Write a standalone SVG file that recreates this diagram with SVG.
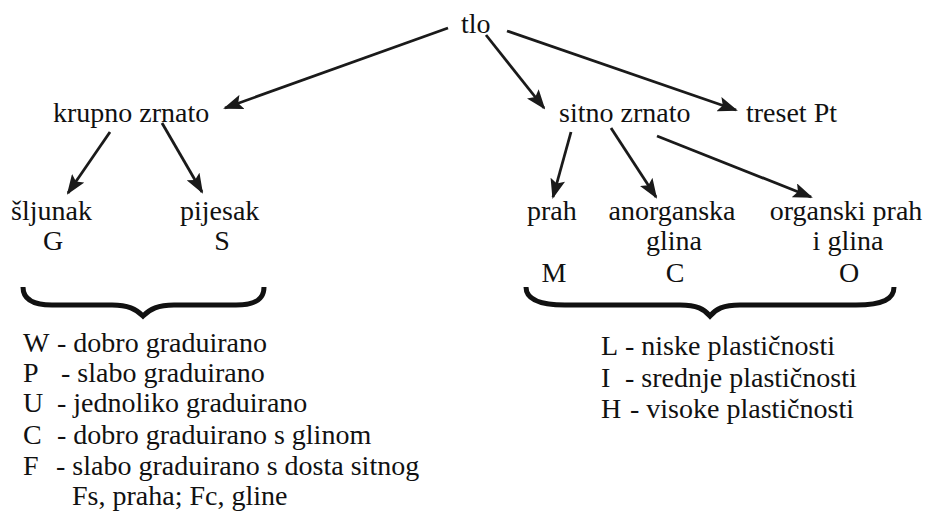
<svg xmlns="http://www.w3.org/2000/svg" width="928" height="514" viewBox="0 0 928 514">
<style>
text{font-family:"Liberation Serif","Times New Roman",serif;font-size:28px;fill:#111}
.c{text-anchor:middle}
.e{stroke:#1a1a1a;stroke-width:2.8;fill:none}
.b{stroke:#111;stroke-width:5;fill:none;stroke-linejoin:miter;stroke-linecap:butt}
</style>
<defs>
<marker id="ah" viewBox="0 0 20 15" refX="18" refY="7.5" markerWidth="20" markerHeight="15" markerUnits="userSpaceOnUse" orient="auto">
<path d="M0,0 L20,7.5 L0,15 L4,7.5 Z" fill="#1a1a1a"/>
</marker>
</defs>
<rect width="928" height="514" fill="#fff"/>
<g id="connectors">
<line class="e" x1="448" y1="28" x2="225" y2="108" marker-end="url(#ah)"/>
<line class="e" x1="486" y1="35" x2="544" y2="108" marker-end="url(#ah)"/>
<line class="e" x1="507" y1="31" x2="736" y2="110" marker-end="url(#ah)"/>
<line class="e" x1="110" y1="132" x2="68" y2="193" marker-end="url(#ah)"/>
<line class="e" x1="162" y1="123" x2="202" y2="192" marker-end="url(#ah)"/>
<line class="e" x1="571" y1="132" x2="553" y2="197" marker-end="url(#ah)"/>
<line class="e" x1="611" y1="128" x2="656" y2="197" marker-end="url(#ah)"/>
<line class="e" x1="657" y1="136" x2="811" y2="197" marker-end="url(#ah)"/>
</g>
<g id="tlo"><text x="461" y="33">tlo</text></g>
<g id="krupno"><text x="53" y="122">krupno zrnato</text></g>
<g id="sitno"><text x="559" y="122">sitno zrnato</text></g>
<g id="treset"><text x="746" y="122">treset Pt</text></g>
<g id="sljunak"><text x="11" y="220">šljunak</text><text class="c" x="53" y="250">G</text></g>
<g id="pijesak"><text x="180" y="220">pijesak</text><text class="c" x="222" y="250">S</text></g>
<g id="prah"><text x="527" y="220">prah</text><text class="c" x="554" y="282">M</text></g>
<g id="anorganska"><text class="c" x="672" y="220">anorganska</text><text class="c" x="674" y="250">glina</text><text class="c" x="675" y="282">C</text></g>
<g id="organski"><text class="c" x="846" y="220">organski prah</text><text class="c" x="848" y="250">i glina</text><text class="c" x="849" y="282">O</text></g>
<g id="brace-left">
<path class="b" d="M23,287 C23,299 32,305 52,305 L112,305 C128,305 136,309 143,316 C150,309 158,305 174,305 L236,305 C256,305 264,299 264,287"/>
</g>
<g id="brace-right">
<path class="b" d="M526,287 C526,299 538,305 565,305 L680,305 C697,305 704,309 710,316 C716,309 723,305 740,305 L856,305 C883,305 894,299 894,287"/>
</g>
<g id="legend-left">
<text y="352"><tspan x="23">W</tspan><tspan x="57">- dobro graduirano</tspan></text>
<text y="382"><tspan x="23">P</tspan><tspan x="61">- slabo graduirano</tspan></text>
<text y="412"><tspan x="23">U</tspan><tspan x="57">- jednoliko graduirano</tspan></text>
<text y="444"><tspan x="23">C</tspan><tspan x="57">- dobro graduirano s glinom</tspan></text>
<text y="475"><tspan x="23">F</tspan><tspan x="56">- slabo graduirano s dosta sitnog</tspan></text>
<text x="72" y="505">Fs, praha; Fc, gline</text>
</g>
<g id="legend-right">
<text y="355"><tspan x="601">L</tspan><tspan x="625">- niske plastičnosti</tspan></text>
<text y="387"><tspan x="601">I</tspan><tspan x="625">- srednje plastičnosti</tspan></text>
<text y="418"><tspan x="601">H</tspan><tspan x="630">- visoke plastičnosti</tspan></text>
</g>
</svg>
